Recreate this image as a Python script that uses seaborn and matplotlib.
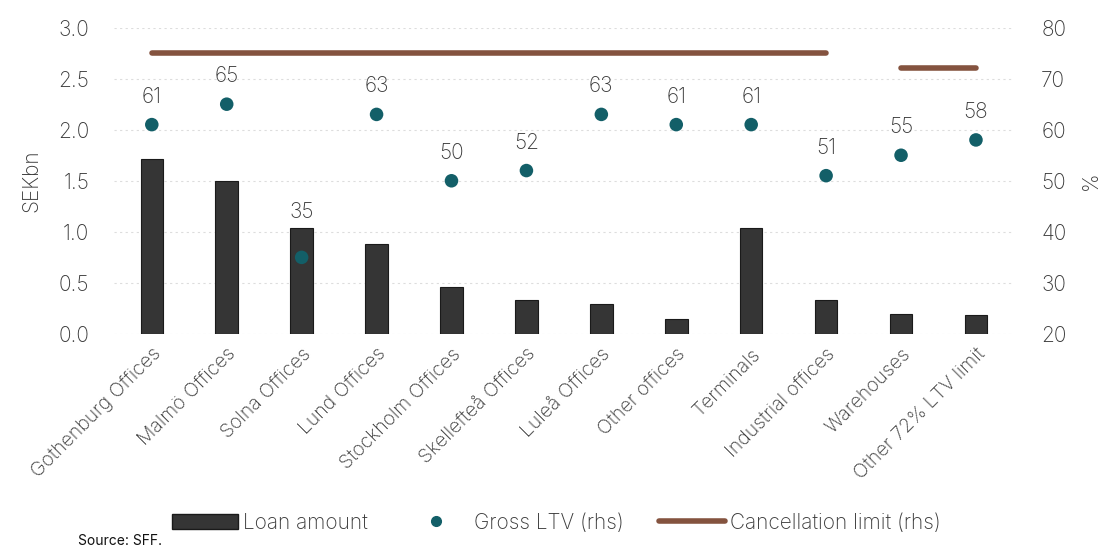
import matplotlib
matplotlib.use("Agg")
import matplotlib.pyplot as plt
from matplotlib.patches import Patch
from matplotlib.lines import Line2D
import seaborn as sns
import pandas as pd

# Portfolio segments and their figures
categories = [
    "Gothenburg Offices", "Malmö Offices", "Solna Offices", "Lund Offices",
    "Stockholm Offices", "Skellefteå Offices", "Luleå Offices", "Other offices",
    "Terminals", "Industrial offices", "Warehouses", "Other 72% LTV limit",
]
loan_amount = [1.71, 1.50, 1.04, 0.88, 0.46, 0.33, 0.29, 0.15, 1.04, 0.33, 0.20, 0.19]  # SEKbn
gross_ltv = [61, 65, 35, 63, 50, 52, 63, 61, 61, 51, 55, 58]  # %
cancellation_limit = [75, 75, 75, 75, 75, 75, 75, 75, 75, 75, 72, 72]  # %

left_ticks = [0.0, 0.5, 1.0, 1.5, 2.0, 2.5, 3.0]
right_ticks = [20, 30, 40, 50, 60, 70, 80]

BAR_COLOR = "#353535"
DOT_COLOR = "#135f68"
LINE_COLOR = "#84533f"
TEXT_COLOR = "#3a3a3a"
FS = 15
FS_X = 14

sns.set_theme(style="white")
plt.rcParams["font.family"] = ["Inter", "DejaVu Sans"]
plt.rcParams["font.weight"] = "light"
plt.rcParams["axes.labelweight"] = "light"
plt.rcParams["text.color"] = TEXT_COLOR
plt.rcParams["axes.labelcolor"] = TEXT_COLOR
plt.rcParams["xtick.color"] = TEXT_COLOR
plt.rcParams["ytick.color"] = TEXT_COLOR

df = pd.DataFrame({
    "segment": categories,
    "pos": range(len(categories)),
    "loan": loan_amount,
    "ltv": gross_ltv,
    "limit": cancellation_limit,
})

fig = plt.figure(figsize=(11.1, 5.52), dpi=100)
ax = fig.add_axes([0.103, 0.395, 0.81, 0.555])

# Loan amount bars (left axis)
sns.barplot(data=df, x="pos", y="loan", color=BAR_COLOR, width=0.3,
            edgecolor="#1a1a1a", linewidth=0.8, saturation=1, ax=ax)
ax.set_xlim(-0.5, len(categories) - 0.5)
ax.set_ylim(0, 3.0)
ax.set_yticks(left_ticks)
ax.set_yticklabels([f"{t:.1f}" for t in left_ticks], fontsize=FS)
ax.set_xticks(range(len(categories)))
ax.set_xticklabels(categories, rotation=45, ha="right", rotation_mode="anchor",
                   fontsize=FS_X)
ax.tick_params(axis="x", length=0, pad=8)
ax.tick_params(axis="y", length=0, pad=18)
ax.set_xlabel("")
ax.set_ylabel("SEKbn", fontsize=FS, labelpad=12)
ax.yaxis.grid(True, color="#dddddd", linestyle=(0, (2, 3)), linewidth=0.8)
ax.set_axisbelow(True)
for s in ax.spines.values():
    s.set_visible(False)

# Gross LTV dots and cancellation limit (right axis)
ax2 = ax.twinx()
ax2.set_ylim(20, 80)
sns.scatterplot(data=df, x="pos", y="ltv", color=DOT_COLOR, s=95,
                edgecolor="none", ax=ax2, legend=False, zorder=4)

# value labels sit above the dot, or above the bar when the bar is taller
lo, hi = ax2.get_ylim()
for x, v, b in zip(df["pos"], df["ltv"], df["loan"]):
    bar_top = lo + b / 3.0 * (hi - lo)
    if bar_top > v:
        ax2.annotate(f"{v}", (x, bar_top), xytext=(0, 4), textcoords="offset points",
                     ha="center", va="bottom", fontsize=FS, color=TEXT_COLOR)
    else:
        ax2.annotate(f"{v}", (x, v), xytext=(0, 13), textcoords="offset points",
                     ha="center", va="bottom", fontsize=FS, color=TEXT_COLOR)

# one segment per run of equal limits
runs = []
start = 0
for i in range(1, len(cancellation_limit) + 1):
    if i == len(cancellation_limit) or cancellation_limit[i] != cancellation_limit[start]:
        runs.append((start, i - 1))
        start = i
for a, b in runs:
    seg = df.iloc[a:b + 1]
    sns.lineplot(data=seg, x="pos", y="limit", color=LINE_COLOR, linewidth=4,
                 solid_capstyle="round", ax=ax2, legend=False, zorder=3)

ax2.set_ylim(20, 80)
ax2.set_yticks(right_ticks)
ax2.set_yticklabels([str(t) for t in right_ticks], fontsize=FS)
ax2.tick_params(axis="y", length=0, pad=20)
ax2.set_xlabel("")
ax2.set_ylabel("%", fontsize=FS, labelpad=10)
ax2.set_xlim(-0.5, len(categories) - 0.5)
for s in ax2.spines.values():
    s.set_visible(False)

handles = [
    Patch(facecolor=BAR_COLOR, edgecolor="#1a1a1a", label="Loan amount"),
    Line2D([], [], marker="o", linestyle="none", color=DOT_COLOR, markersize=7,
           label="Gross LTV (rhs)"),
    Line2D([], [], color=LINE_COLOR, linewidth=4, solid_capstyle="round",
           label="Cancellation limit (rhs)"),
]
fig.legend(handles=handles, loc="center", bbox_to_anchor=(0.501, 0.053), ncol=3,
           frameon=False, fontsize=FS, handlelength=3.2, handleheight=0.75,
           handletextpad=0.2, columnspacing=1.7)

fig.text(0.07, 0.012, "Source: SFF.", fontsize=10, color="#111111",
         fontweight="normal")

fig.savefig("out.png", dpi=100, facecolor="white")
